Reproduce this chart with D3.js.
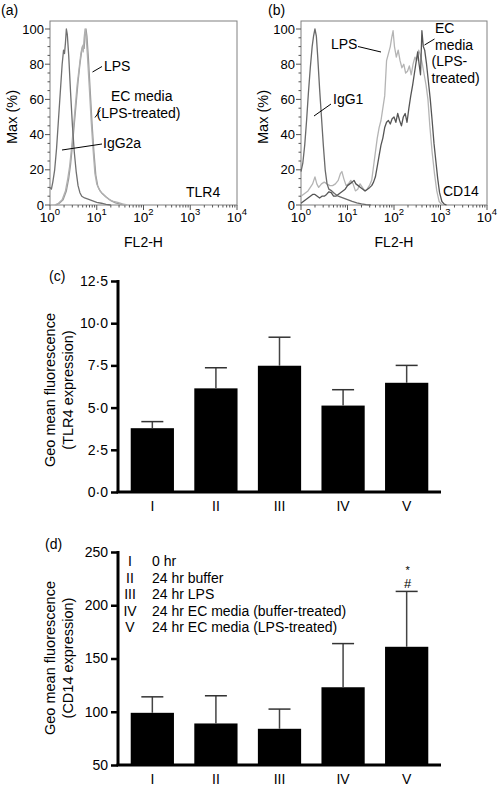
<!DOCTYPE html>
<html><head><meta charset="utf-8">
<script src="https://cdn.jsdelivr.net/npm/d3@7"></script>
<style>
body{margin:0;background:#fff}
svg{display:block}
text{font-family:"Liberation Sans",Arial,Helvetica,sans-serif;fill:#000}
</style>
</head><body>
<svg id="chart" width="498" height="788"></svg>
<script>
// ---------- DATA ----------
// Histogram traces: [log10(FL2-H), % of max]
const decades = [0, 1, 2, 3, 4];
const maxTicks = [0, 20, 40, 60, 80, 100];

const aIgG2a = [[0,10],[0.03,9],[0.06,13],[0.1,20],[0.14,32],[0.18,48],[0.22,64],[0.26,80],[0.29,88],[0.31,86],[0.33,92],[0.35,100],[0.37,97],[0.4,85],[0.44,64],[0.48,45],[0.52,30],[0.56,19],[0.6,11],[0.64,7],[0.68,5],[0.74,4],[0.8,3.5],[0.9,2.5],[1.0,1.5],[1.1,1],[1.2,0.4],[1.3,0]];
const aLPS = [[0.1,0],[0.18,1],[0.26,3],[0.33,8],[0.38,15],[0.42,22],[0.46,32],[0.5,44],[0.54,56],[0.58,68],[0.62,77],[0.66,86],[0.69,90],[0.71,87],[0.73,95],[0.75,100],[0.77,97],[0.8,85],[0.84,67],[0.88,48],[0.92,32],[0.96,18],[1.0,12],[1.05,9],[1.1,7],[1.18,5],[1.27,3],[1.36,2],[1.45,1.5],[1.55,0.7],[1.65,0]];
const aEC = [[0.12,0],[0.2,1],[0.28,3],[0.35,8],[0.4,15],[0.44,23],[0.48,34],[0.52,46],[0.56,58],[0.6,70],[0.64,80],[0.68,88],[0.71,91],[0.73,89],[0.75,96],[0.77,100],[0.79,96],[0.82,84],[0.86,65],[0.9,46],[0.94,30],[0.98,17],[1.02,11],[1.07,8],[1.12,6.5],[1.2,4.5],[1.3,2.5],[1.4,1.2],[1.5,0.5],[1.6,0]];

const bIgG1 = [[0,19],[0.04,24],[0.08,34],[0.12,48],[0.16,64],[0.2,78],[0.24,90],[0.27,96],[0.3,100],[0.33,96],[0.36,84],[0.4,66],[0.44,50],[0.48,34],[0.52,20],[0.56,12],[0.6,9],[0.66,8],[0.72,6.5],[0.8,5],[0.9,4],[1.0,3],[1.1,2],[1.2,1.2],[1.3,0.6],[1.4,0.2],[1.5,0]];
const bLPS = [[0,5],[0.05,6],[0.1,7],[0.15,8],[0.2,10],[0.25,12],[0.3,16],[0.34,12],[0.38,10],[0.44,12],[0.5,13],[0.56,12],[0.62,11],[0.68,11],[0.74,12],[0.8,14],[0.85,18],[0.88,19],[0.92,15],[0.97,11],[1.02,12],[1.07,14],[1.12,12],[1.17,8],[1.22,9],[1.27,12],[1.32,10],[1.37,8],[1.42,9],[1.47,11],[1.52,14],[1.56,22],[1.6,30],[1.64,38],[1.68,44],[1.72,48],[1.76,55],[1.8,62],[1.84,82],[1.88,86],[1.92,90],[1.95,95],[1.98,99],[2.01,90],[2.05,84],[2.09,88],[2.13,82],[2.17,78],[2.21,80],[2.25,75],[2.29,76],[2.33,79],[2.37,74],[2.41,80],[2.45,84],[2.49,82],[2.53,88],[2.57,85],[2.61,80],[2.65,74],[2.69,68],[2.73,60],[2.77,45],[2.82,30],[2.87,18],[2.92,8],[2.97,2],[3.02,0.5],[3.06,0]];
const bEC = [[0,1],[0.05,2],[0.1,3],[0.15,4],[0.2,5],[0.25,6],[0.3,6],[0.35,5],[0.4,4],[0.45,5],[0.5,5],[0.55,6],[0.6,7.5],[0.65,7],[0.7,5],[0.75,5],[0.8,6],[0.85,7],[0.9,8],[0.95,9],[1.0,11],[1.05,12],[1.1,13],[1.14,14],[1.18,12],[1.23,11],[1.28,10],[1.33,9],[1.38,8],[1.43,9],[1.48,10],[1.52,11],[1.56,13],[1.6,16],[1.64,22],[1.68,28],[1.72,34],[1.76,38],[1.8,44],[1.84,47],[1.88,48],[1.92,46],[1.96,49],[2.0,50],[2.04,47],[2.08,52],[2.12,48],[2.16,45],[2.2,50],[2.24,52],[2.28,47],[2.32,55],[2.36,62],[2.4,68],[2.44,75],[2.48,82],[2.51,87],[2.54,80],[2.57,74],[2.6,99],[2.63,90],[2.66,88],[2.7,80],[2.74,70],[2.78,60],[2.82,48],[2.86,35],[2.9,25],[2.94,15],[2.98,7],[3.03,2],[3.08,0.5],[3.13,0]];

// Bar charts
const groups = ["I", "II", "III", "IV", "V"];
const tlr4Mean = [3.78, 6.14, 7.48, 5.12, 6.47];
const tlr4Err  = [0.39, 1.22, 1.69, 0.94, 1.03];
const tlr4Ticks = [0, 2.5, 5, 7.5, 10, 12.5];
const cd14Mean = [99, 89, 84, 123, 161];
const cd14Err  = [15, 26, 18.5, 41, 52];
const cd14Ticks = [50, 100, 150, 200, 250];
const legendText = ["0 hr", "24 hr buffer", "24 hr LPS", "24 hr EC media (buffer-treated)", "24 hr EC media (LPS-treated)"];

// ---------- DRAW ----------
const svg = d3.select("#chart");
const FONT = 14;

function histPanel(opt) {
  const g = svg.append("g");
  const x = d3.scaleLinear().domain([0, 4]).range([opt.x0, opt.x1]);
  const y = d3.scaleLinear().domain([0, 100]).range([205, 29]);
  const top = 21;
  g.append("rect").attr("x", opt.x0).attr("y", top).attr("width", opt.x1 - opt.x0).attr("height", y(0) - top)
    .attr("fill", "none").attr("stroke", "#808080").attr("stroke-width", 1);
  d3.range(0, 101, 5).forEach(v => {
    const major = v % 20 === 0;
    g.append("line").attr("x1", opt.x0 - (major ? 5 : 2.5)).attr("x2", opt.x0)
      .attr("y1", y(v)).attr("y2", y(v)).attr("stroke", "#555").attr("stroke-width", 1);
  });
  maxTicks.forEach(v => {
    g.append("text").attr("x", opt.x0 - 6).attr("y", y(v) + 4.5).attr("text-anchor", "end")
      .attr("font-size", 13).text(v);
  });
  decades.forEach(d => {
    g.append("line").attr("x1", x(d)).attr("x2", x(d)).attr("y1", y(0)).attr("y2", y(0) + 5)
      .attr("stroke", "#555");
    if (d < 4) {
      for (let m = 2; m <= 9; m++) {
        const xv = x(d + Math.log10(m));
        g.append("line").attr("x1", xv).attr("x2", xv).attr("y1", y(0)).attr("y2", y(0) + 2.5)
          .attr("stroke", "#555");
      }
    }
    const t = g.append("text").attr("x", x(d)).attr("y", 222).attr("text-anchor", "middle").attr("font-size", 13.5);
    t.append("tspan").text("10");
    t.append("tspan").attr("font-size", 9.5).attr("dy", -7).text(d);
  });
  g.append("text").attr("x", x(2)).attr("y", 247).attr("text-anchor", "middle").attr("font-size", FONT).text("FL2-H");
  g.append("text").attr("transform", `translate(${opt.ylabX},117) rotate(-90)`).attr("text-anchor", "middle")
    .attr("font-size", 14.5).text("Max (%)");
  g.append("text").attr("x", opt.tagX).attr("y", 15).attr("font-size", FONT).text(opt.tag);
  const line = d3.line().x(d => x(d[0])).y(d => y(d[1]));
  opt.curves.forEach(c => {
    g.append("path").datum(c.data).attr("d", line).attr("fill", "none")
      .attr("stroke", c.color).attr("stroke-width", 1.3).attr("stroke-linejoin", "round");
  });
  opt.labels.forEach(l => {
    const t = g.append("text").attr("font-size", FONT);
    l.lines.forEach((s, i) => t.append("tspan")
      .attr("x", l.xs ? l.xs[i] : l.x).attr("y", l.y + i * 16.5).text(s));
    if (l.leader) {
      g.append("line").attr("x1", l.leader[0]).attr("y1", l.leader[1]).attr("x2", l.leader[2]).attr("y2", l.leader[3])
        .attr("stroke", "#000").attr("stroke-width", 1);
    }
  });
  return {x, y};
}

histPanel({
  x0: 50, x1: 237, ylabX: 17, tag: "(a)", tagX: 1,
  curves: [
    {data: aEC, color: "#9a9a9a"},
    {data: aLPS, color: "#b0b0b0"},
    {data: aIgG2a, color: "#707070"}
  ],
  labels: [
    {lines: ["LPS"], x: 104, y: 71, leader: [92.5, 72, 102, 66.5]},
    {lines: ["EC media", "(LPS-treated)"], xs: [111, 96.5], y: 101, leader: [95, 117.5, 100, 110.5]},
    {lines: ["IgG2a"], x: 103, y: 148, leader: [62, 150, 102, 144]},
    {lines: ["TLR4"], x: 186, y: 197}
  ]
});

histPanel({
  x0: 301, x1: 487, ylabX: 268, tag: "(b)", tagX: 268,
  curves: [
    {data: bLPS, color: "#b4b4b4"},
    {data: bEC, color: "#555555"},
    {data: bIgG1, color: "#6a6a6a"}
  ],
  labels: [
    {lines: ["LPS"], x: 331, y: 49, leader: [358, 46.5, 381, 52]},
    {lines: ["EC", "media", "(LPS-", "treated)"], xs: [435, 435, 431.5, 431.5], y: 33, leader: [424.5, 45, 434.5, 39]},
    {lines: ["IgG1"], x: 333, y: 104, leader: [314, 116, 331, 104]},
    {lines: ["CD14"], x: 443, y: 196}
  ]
});

function barPanel(opt) {
  const g = svg.append("g");
  const x = d3.scaleBand().domain(groups).range([118, 441]).paddingInner(0.32).paddingOuter(0.2);
  const y = d3.scaleLinear().domain(opt.domain).range(opt.range);
  g.selectAll("rect.bar").data(groups).join("rect")
    .attr("x", d => x(d)).attr("width", x.bandwidth())
    .attr("y", (d, i) => y(opt.mean[i])).attr("height", (d, i) => y(opt.domain[0]) - y(opt.mean[i]))
    .attr("fill", "#000");
  groups.forEach((d, i) => {
    const cx = x(d) + x.bandwidth() / 2;
    const yt = y(opt.mean[i] + opt.err[i]);
    g.append("line").attr("x1", cx).attr("x2", cx).attr("y1", y(opt.mean[i])).attr("y2", yt)
      .attr("stroke", "#444").attr("stroke-width", 1.5);
    g.append("line").attr("x1", cx - 11).attr("x2", cx + 11).attr("y1", yt).attr("y2", yt)
      .attr("stroke", "#333").attr("stroke-width", 1.5);
  });
  const yAxis = d3.axisLeft(y).tickValues(opt.ticks).tickSize(7).tickPadding(3).tickFormat(opt.fmt);
  const ya = g.append("g").attr("transform", "translate(118,0)").call(yAxis);
  ya.select(".domain").attr("stroke-width", 3).attr("d", `M0,${opt.range[1] - 1}V${opt.range[0]}`);
  ya.selectAll(".tick line").attr("stroke-width", 2.5);
  ya.selectAll("text").attr("font-size", FONT).attr("font-family", '"Liberation Sans",Arial,sans-serif');
  const xa = g.append("g").attr("transform", `translate(0,${opt.range[0]})`).call(d3.axisBottom(x).tickSize(0).tickPadding(9));
  xa.select(".domain").attr("stroke-width", 3).attr("d", "M116.5,0H441");
  xa.selectAll("text").attr("font-size", FONT).attr("font-family", '"Liberation Sans",Arial,sans-serif');
  const lab = g.append("text").attr("transform", `translate(${opt.labX},${opt.labY}) rotate(-90)`)
    .attr("text-anchor", "middle").attr("font-size", 14.5);
  lab.append("tspan").attr("x", 0).attr("y", 0).text("Geo mean fluorescence");
  lab.append("tspan").attr("x", 0).attr("y", 18).text(opt.labSub);
  g.append("text").attr("x", opt.tagX).attr("y", opt.tagY).attr("font-size", FONT).text(opt.tag);
  return {g, x, y};
}

const fmtDot = d => d3.format(".1f")(d).replace(".", "\u00B7");

barPanel({
  domain: [0, 12.5], range: [492, 281], mean: tlr4Mean, err: tlr4Err, ticks: tlr4Ticks, fmt: fmtDot,
  labX: 55, labY: 390, labSub: "(TLR4 expression)", tag: "(c)", tagX: 49, tagY: 281
});

const d = barPanel({
  domain: [50, 250], range: [765, 552], mean: cd14Mean, err: cd14Err, ticks: cd14Ticks, fmt: d3.format("d"),
  labX: 55, labY: 658, labSub: "(CD14 expression)", tag: "(d)", tagX: 45, tagY: 549
});

legendText.forEach((t, i) => {
  d.g.append("text").attr("x", 130).attr("y", 566 + i * 16.5).attr("text-anchor", "middle").attr("font-size", FONT).text(groups[i]);
  d.g.append("text").attr("x", 152).attr("y", 566 + i * 16.5).attr("font-size", FONT).text(t);
});
const vx = d.x("V") + d.x.bandwidth() / 2;
const vTop = d.y(cd14Mean[4] + cd14Err[4]);
d.g.append("text").attr("x", vx + 1).attr("y", vTop - 17).attr("text-anchor", "middle").attr("font-size", 11).text("*");
d.g.append("text").attr("x", vx + 1).attr("y", vTop - 3).attr("text-anchor", "middle").attr("font-size", 13).text("#");
</script>
</body></html>
